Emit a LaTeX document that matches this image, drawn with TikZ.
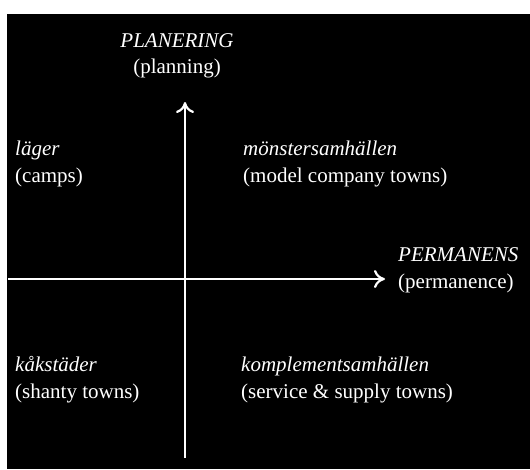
\documentclass[tikz,border=0pt]{standalone}
\usepackage{fontspec}
\setmainfont{Liberation Serif}
\usetikzlibrary{arrows.meta,positioning}
\tikzset{
	axistext/.style={font=\fontsize{21}{26}\selectfont\color{white}, inner sep=0pt, align=center}
}
\tikzset{
	quadtext/.style={font=\fontsize{21}{27}\selectfont\color{white}, inner sep=0pt, align=left}
}
\tikzset{
	axisline/.style={white, line width=2.2pt, -{Computer Modern Rightarrow[length=11pt,width=18pt]}}
}

\begin{document}
\begin{tikzpicture}[x=1pt,y=-1pt]
      \fill[white] (0,0) rectangle (530,469);
      \fill[black] (7,14) rectangle (530,469);
      \coordinate (xleft) at (8,279);
      \coordinate (xright) at (385,279);
      \coordinate (ybot) at (185,458);
      \coordinate (ytop) at (185,102);
      \draw[axisline] (xleft) -- (xright);
      \draw[axisline] (ybot) -- (ytop);
      % base anchor sits on the last line
      \node[axistext, anchor=base] (plan) at (177,73) {\textit{PLANERING}\\(planning)};
      \node[quadtext, anchor=base west] (perm) at (398,288) {\textit{PERMANENS}\\(permanence)};
      \foreach \n/\x/\y/\sv/\en in {lager/15/182/läger/camps,
          monster/243/182/mönstersamhällen/model company towns,
          kak/15/398/kåkstäder/shanty towns,
          kompl/241/398/komplementsamhällen/service \& supply towns}
        \node[quadtext, anchor=base west] (\n) at (\x,\y) {\textit{\sv}\\(\en)};
    \end{tikzpicture}
\end{document}
